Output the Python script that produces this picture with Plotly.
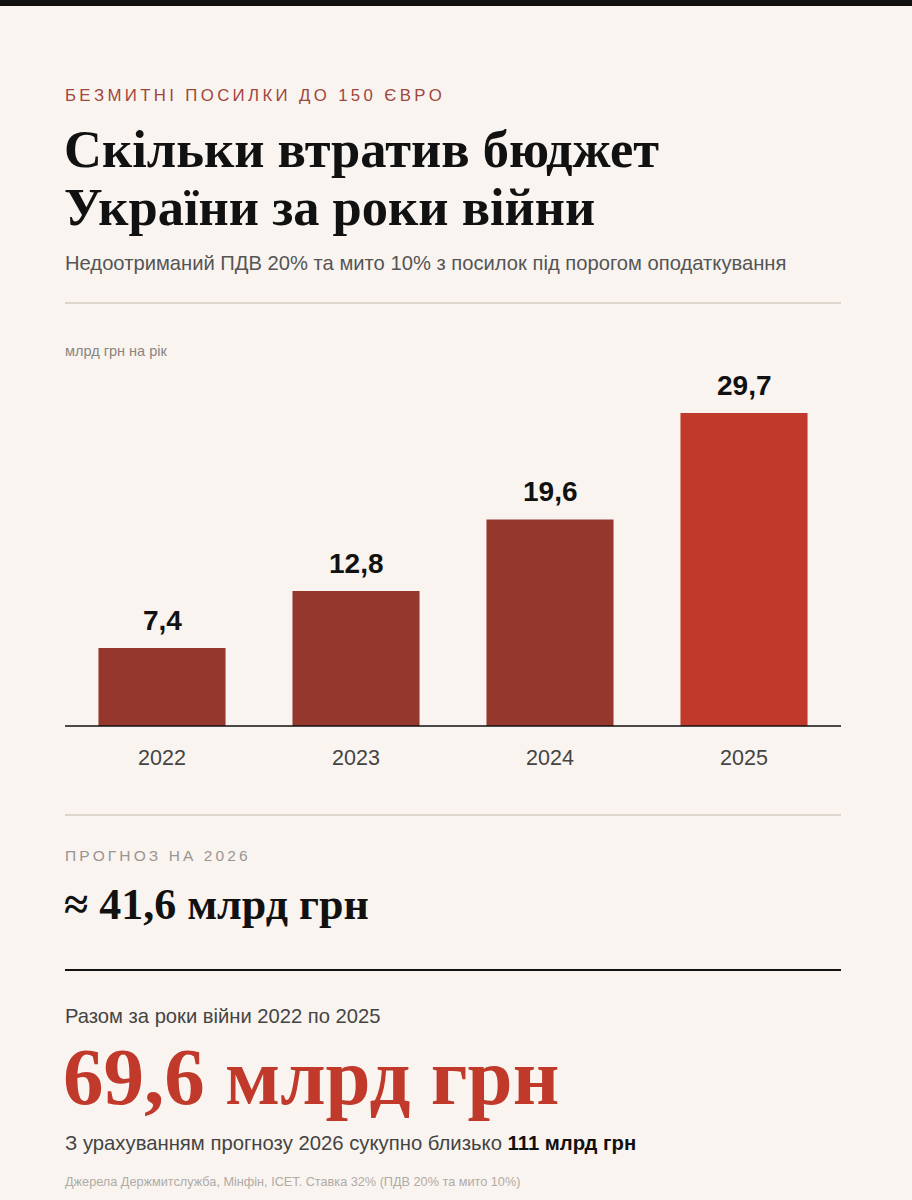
import plotly.graph_objects as go

years = ["2022", "2023", "2024", "2025"]
values = [7.4, 12.8, 19.6, 29.7]
bar_colors = ["#96372d", "#96372d", "#96372d", "#c0392b"]

W, H = 912, 1200
BG = "#f9f4ef"
SANS = "Liberation Sans, Arial, sans-serif"
SERIF = "Liberation Serif, Times New Roman, serif"

def py(p):
    return 1 - p / H

def px(p):
    return p / W

fig = go.Figure()
fig.add_trace(go.Bar(
    x=years, y=values, marker=dict(color=bar_colors, line=dict(width=0)),
    hoverinfo="skip", showlegend=False,
))

ann = []
for i, v in enumerate(values):
    ann.append(dict(x=i, y=v, xref="x", yref="y", text=f"{v:.1f}".replace(".", ","),
                    showarrow=False, yanchor="bottom", yshift=10,
                    font=dict(family=SANS, size=28, color="#111111", weight="bold")))

def txt(x, y, text, size, color, family, weight="normal", xanchor="left"):
    ann.append(dict(x=px(x), y=py(y), xref="paper", yref="paper", text=text, showarrow=False,
                    xanchor=xanchor, yanchor="middle",
                    font=dict(family=family, size=size, color=color, weight=weight)))

sp = "\u2009"
txt(63, 96, sp.join("БЕЗМИТНІ ПОСИЛКИ ДО 150 ЄВРО"), 16.8, "#a0463c", SANS)
txt(62, 149, "Скільки втратив бюджет", 52.5, "#111111", SERIF, "bold")
txt(62, 207, "України за роки війни", 52.5, "#111111", SERIF, "bold")
txt(63, 263, "Недоотриманий ПДВ 20% та мито 10% з посилок під порогом оподаткування", 20.2, "#555555", SANS)
txt(63, 351, "млрд грн на рік", 14.5, "#8a8580", SANS)
txt(63, 855, sp.join("ПРОГНОЗ НА 2026"), 15.5, "#9a9590", SANS)
txt(62, 904, "≈ 41,6 млрд грн", 44, "#111111", SERIF, "bold")
txt(63, 1016, "Разом за роки війни 2022 по 2025", 20.2, "#444444", SANS)
txt(61, 1077, "69,6 млрд грн", 81, "#c0392b", SERIF, "bold")
txt(63, 1143, "З урахуванням прогнозу 2026 сукупно близько <b style='color:#111'>111 млрд грн</b>", 20.3, "#444444", SANS)
txt(63, 1182, "Джерела Держмитслужба, Мінфін, ICET. Ставка 32% (ПДВ 20% та мито 10%)", 12.7, "#b0aba6", SANS)

shapes = [
    dict(type="rect", xref="paper", yref="paper", x0=0, x1=1, y0=py(6), y1=1,
         fillcolor="#111111", line=dict(width=0), layer="above"),
    dict(type="line", xref="paper", yref="paper", x0=px(65), x1=px(841), y0=py(303), y1=py(303),
         line=dict(color="#ddd6cc", width=2)),
    dict(type="line", xref="paper", yref="paper", x0=px(65), x1=px(841), y0=py(726), y1=py(726),
         line=dict(color="#111111", width=1.5)),
    dict(type="line", xref="paper", yref="paper", x0=px(65), x1=px(841), y0=py(815), y1=py(815),
         line=dict(color="#ddd6cc", width=2)),
    dict(type="line", xref="paper", yref="paper", x0=px(65), x1=px(841), y0=py(970), y1=py(970),
         line=dict(color="#111111", width=2)),
]

top_px = 360
fig.update_layout(
    width=W, height=H, margin=dict(l=0, r=0, t=0, b=0, autoexpand=False),
    paper_bgcolor=BG, plot_bgcolor=BG,
    bargap=0.345,
    xaxis=dict(type="category", domain=[px(65), px(841)], range=[-0.5, len(years) - 0.5],
               showgrid=False, zeroline=False, showline=False, ticks="", automargin=False,
               tickfont=dict(family=SANS, size=21.5, color="#444444"),
               ticklabelstandoff=16, fixedrange=True),
    yaxis=dict(domain=[py(726), py(top_px)], range=[0, (726 - top_px) / 10.54],
               visible=False, fixedrange=True, automargin=False),
    annotations=ann, shapes=shapes,
)
fig.write_html("out.html")
